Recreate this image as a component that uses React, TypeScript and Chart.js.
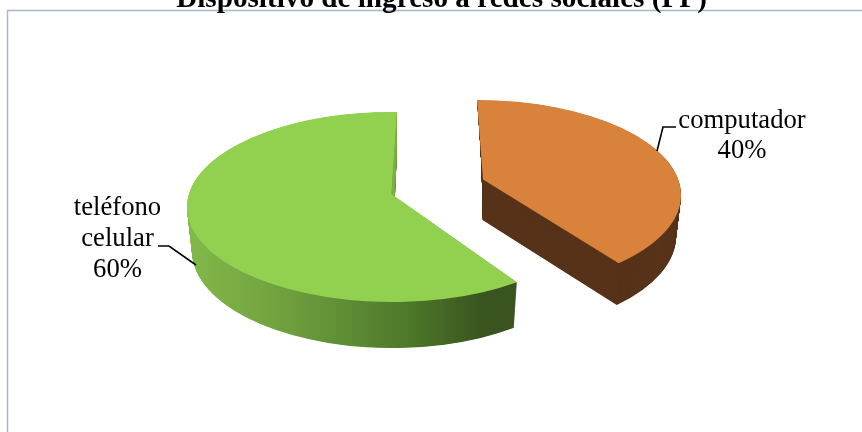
import React, { useEffect, useRef } from "react";
import { Chart, registerables } from "chart.js";

Chart.register(...registerables);

const categories = ["computador", "teléfono celular"];
const values = [40, 60];
const chartTitle = "Dispositivo de ingreso a redes sociales (PP)";
const topColors = ["#d9823b", "#92d050"];

const labelLines = [
  ["computador", "40%"],
  ["teléfono", "celular", "60%"],
];

const SERIF = "'Liberation Serif', serif";

// Look of the perspective drawing: top and bottom ellipses of each exploded slice.
const solids = [
  {
    top: { cx: 477, cy: 195, rx: 204, ry: 95, ax: 483, ay: 179.5 },
    bottom: { cx: 482, cy: 236, rx: 194, ry: 96, ax: 482.5, ay: 220 },
    paramStart: 0,
    paramSweep: 136,
  },
  {
    top: { cx: 392, cy: 207, rx: 205, ry: 95, ax: 391.5, ay: 194 },
    bottom: { cx: 392, cy: 251, rx: 200, ry: 97, ax: 393, ay: 239 },
    paramStart: 142.4,
    paramSweep: 219,
  },
];

const labelLayout = [
  { x: 742, baselines: [128, 158], leader: [[657, 151], [663, 127], [676, 127]] },
  { x: 117.5, baselines: [215, 246, 277], leader: [[158, 246], [169, 246], [196, 265]] },
];

const lerp = (a: number, b: number, k: number) => a + (b - a) * k;
const RAD = Math.PI / 180;

function slicePath(ctx: CanvasRenderingContext2D, s: any, k: number) {
  const g: any = {};
  for (const key of Object.keys(s.top)) g[key] = lerp(s.bottom[key], s.top[key], k);
  const a0 = (s.paramStart - 90) * RAD;
  const a1 = (s.paramStart + s.paramSweep - 90) * RAD;
  ctx.beginPath();
  ctx.moveTo(g.ax, g.ay);
  ctx.ellipse(g.cx, g.cy, g.rx, g.ry, 0, a0, a1);
  ctx.closePath();
}

const solidPie = {
  id: "solidPie",
  beforeDatasetDraw(chart: any) {
    const ctx: CanvasRenderingContext2D = chart.ctx;
    const arcs = chart.getDatasetMeta(0).data;
    arcs.forEach((arc: any, i: number) => {
      const { startAngle, endAngle } = arc.getProps(["startAngle", "endAngle"], true);
      const dataSweep = (endAngle - startAngle) / RAD;
      // the slice's own sweep, bent slightly by the perspective
      const s = {
        ...solids[i],
        paramSweep: dataSweep * (solids[i].paramSweep / (values[i] * 3.6)),
      };
      let wall: any = "#57331a";
      if (i === 1) {
        const g = ctx.createLinearGradient(190, 0, 517, 0);
        g.addColorStop(0, "#82b84a");
        g.addColorStop(0.3, "#6f9f3e");
        g.addColorStop(0.65, "#4f7a2b");
        g.addColorStop(0.9, "#39541e");
        g.addColorStop(1, "#39541e");
        wall = g;
      }
      ctx.save();
      ctx.fillStyle = wall;
      const layers = 90;
      for (let n = 0; n < layers; n++) {
        slicePath(ctx, s, n / layers);
        ctx.fill();
      }
      if (i === 1) {
        // the lit rear cut face
        const e = (s.paramStart + s.paramSweep - 90) * RAD;
        const p = (q: any) => [q.cx + q.rx * Math.cos(e), q.cy + q.ry * Math.sin(e)];
        const [tx, ty] = p(s.top);
        const [bx, by] = p(s.bottom);
        ctx.fillStyle = "#7dae43";
        ctx.beginPath();
        ctx.moveTo(s.top.ax, s.top.ay);
        ctx.lineTo(tx, ty);
        ctx.lineTo(bx, by);
        ctx.lineTo(s.bottom.ax, s.bottom.ay);
        ctx.closePath();
        ctx.fill();
      }
      ctx.fillStyle = topColors[i];
      slicePath(ctx, s, 1);
      ctx.fill();
      ctx.restore();
    });
    return false;
  },
  afterDatasetsDraw(chart: any) {
    const ctx: CanvasRenderingContext2D = chart.ctx;
    ctx.save();
    ctx.font = `26.67px ${SERIF}`;
    ctx.fillStyle = "#000";
    ctx.textAlign = "center";
    ctx.textBaseline = "alphabetic";
    labelLines.forEach((lines, i) => {
      const l = labelLayout[i];
      lines.forEach((t, j) => ctx.fillText(t, l.x, l.baselines[j]));
      ctx.beginPath();
      l.leader.forEach(([x, y], j) => (j ? ctx.lineTo(x, y) : ctx.moveTo(x, y)));
      ctx.strokeStyle = "#000";
      ctx.lineWidth = 1.6;
      ctx.stroke();
    });
    ctx.restore();
  },
};

const frame = {
  id: "frame",
  beforeDraw(chart: any) {
    const ctx: CanvasRenderingContext2D = chart.ctx;
    ctx.save();
    ctx.fillStyle = "#fff";
    ctx.fillRect(0, 0, chart.width, chart.height);
    ctx.strokeStyle = "#a6b5cf";
    ctx.lineWidth = 1.5;
    ctx.strokeRect(7.5, 10.5, chart.width + 20, chart.height + 20);
    ctx.restore();
  },
};

export default function App() {
  const ref = useRef<HTMLCanvasElement>(null);
  useEffect(() => {
    document.body.style.margin = "0";
    const chart = new Chart(ref.current as HTMLCanvasElement, {
      type: "pie",
      data: {
        labels: categories,
        datasets: [{ data: values, backgroundColor: topColors, borderWidth: 0 }],
      },
      options: {
        animation: false,
        responsive: false,
        devicePixelRatio: 1,
        layout: { padding: { left: 21 } },
        plugins: {
          legend: { display: false },
          tooltip: { enabled: false },
          title: {
            display: true,
            fullSize: false,
            text: chartTitle,
            color: "#000",
            font: { family: SERIF, size: 29.2, weight: "bold" },
            padding: { top: -18.5, bottom: 0 },
          },
        },
      },
      plugins: [frame, solidPie],
    } as any);
    return () => chart.destroy();
  }, []);
  return <canvas ref={ref} width={862} height={432} style={{ display: "block" }} />;
}
